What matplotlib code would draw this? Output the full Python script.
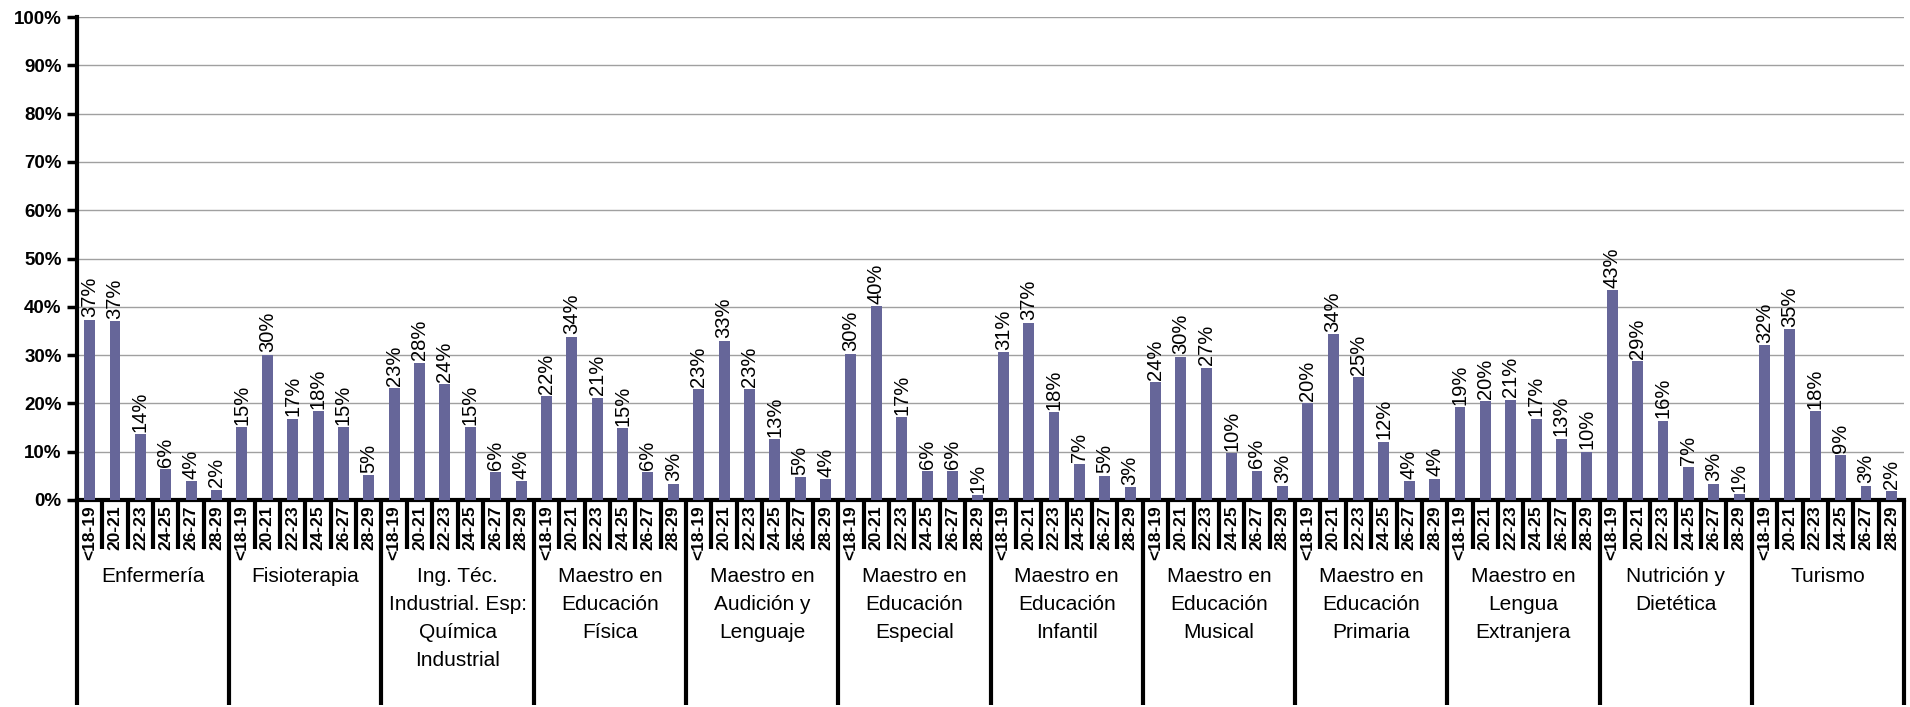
import numpy as np
import matplotlib.pyplot as plt
from matplotlib.transforms import blended_transform_factory

plt.rcParams['font.family'] = ['Liberation Sans Narrow', 'Liberation Sans', 'DejaVu Sans']

# age ranges (one bar each) and degree groups
ages = ['<18-19', '20-21', '22-23', '24-25', '26-27', '28-29']
groups = ['Enfermería', 'Fisioterapia', 'Ing. Téc.\nIndustrial. Esp:\nQuímica\nIndustrial',
          'Maestro en\nEducación\nFísica', 'Maestro en\nAudición y\nLenguaje',
          'Maestro en\nEducación\nEspecial', 'Maestro en\nEducación\nInfantil',
          'Maestro en\nEducación\nMusical', 'Maestro en\nEducación\nPrimaria',
          'Maestro en\nLengua\nExtranjera', 'Nutrición y\nDietética', 'Turismo']

enfermeria = [37.3, 37.0, 13.6, 6.4, 3.9, 2.1]
fisioterapia = [15.1, 30.1, 16.8, 18.4, 15.1, 5.1]
ing_tec = [23.2, 28.4, 24.0, 15.1, 5.8, 3.9]
m_fisica = [21.5, 33.8, 21.2, 14.9, 5.8, 3.4]
m_audicion = [23.0, 33.0, 23.0, 12.6, 4.7, 4.3]
m_especial = [30.3, 40.1, 17.2, 6.0, 6.0, 1.0]
m_infantil = [30.6, 36.7, 18.2, 7.4, 5.0, 2.6]
m_musical = [24.4, 29.7, 27.4, 9.7, 6.1, 3.0]
m_primaria = [20.0, 34.3, 25.4, 12.1, 3.9, 4.4]
m_lengua = [19.2, 20.4, 20.8, 16.8, 12.7, 10.0]
nutricion = [43.4, 28.8, 16.4, 6.8, 3.4, 1.2]
turismo = [32.0, 35.4, 18.4, 9.3, 3.0, 1.8]

values = np.array(enfermeria + fisioterapia + ing_tec + m_fisica + m_audicion + m_especial +
                  m_infantil + m_musical + m_primaria + m_lengua + nutricion + turismo)
n_age = len(ages)
x = np.arange(len(values))

fig = plt.figure(figsize=(19.1, 7.07), dpi=100)
ax = fig.add_axes([0.0403, 0.2928, 0.9566, 0.683])

ax.bar(x, values, width=0.43, color='#666699', zorder=3)
for xi, v in zip(x, values):
    ax.text(xi, v + 0.5, '%d%%' % round(v), rotation=90, ha='center', va='bottom',
            fontsize=14.5, zorder=4)

ax.set_xlim(-0.5, len(values) - 0.5)
ax.set_ylim(0, 100)
ax.set_yticks(np.arange(0, 101, 10))
ax.set_yticklabels(['%d%%' % t for t in range(0, 101, 10)], fontsize=13.5, fontweight='bold')
ax.yaxis.grid(True, color='#a0a0a0', linewidth=1, zorder=0)
ax.tick_params(axis='y', length=7, width=2.5, pad=4)

for s in ['top', 'right']:
    ax.spines[s].set_visible(False)
ax.spines['left'].set_linewidth(3)
ax.spines['bottom'].set_linewidth(3)

# age tick labels
ax.set_xticks(x)
ax.set_xticklabels(ages * len(groups), rotation=90, fontsize=12.5, fontweight='bold', va='top')
ax.tick_params(axis='x', length=0, pad=4)

# separators below the axis
trans = blended_transform_factory(ax.transData, ax.transAxes)
for b in np.arange(-0.5, len(values), 1):
    is_group = round(b + 0.5) % n_age == 0
    ax.plot([b, b], [0, -0.424 if is_group else -0.101], color='black', linewidth=3,
            transform=trans, clip_on=False, solid_capstyle='butt')

# group labels
for g, name in enumerate(groups):
    ax.text(g * n_age + (n_age - 1) / 2, -0.138, name, transform=trans, ha='center', va='top',
            fontsize=15, linespacing=1.6)

fig.savefig('out.png', dpi=100)
